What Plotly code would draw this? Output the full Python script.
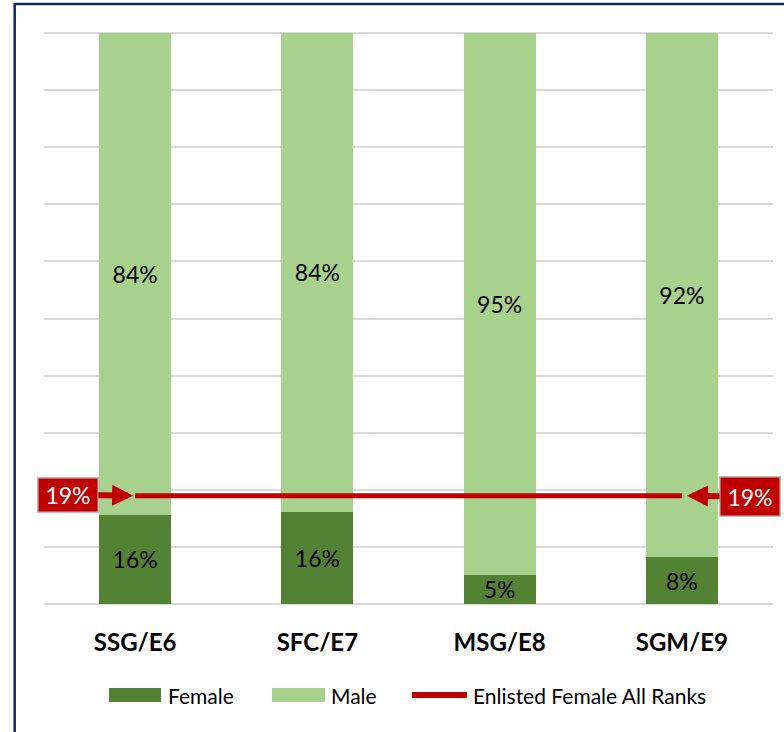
import plotly.graph_objects as go

ranks = ["SSG/E6", "SFC/E7", "MSG/E8", "SGM/E9"]
female = [15.7, 16.1, 5.2, 8.2]
male = [84.3, 83.9, 94.8, 91.8]
all_ranks_female = 19
legend_names = ["Female", "Male", "Enlisted Female All Ranks"]

DARK = "#548235"
LIGHT = "#A9D18E"
RED = "#C00000"
FONT = "Lato"

W, H = 784, 732
ML, MR, MT, MB = 44, 11, 31, 126
PW, PH = W - ML - MR, H - MT - MB


def px(xpix):
    return (xpix - ML) / PW


def py(ypix):
    return (H - MB - ypix) / PH


fig = go.Figure()
fig.add_trace(go.Bar(x=ranks, y=female, name=legend_names[0], marker=dict(color=DARK, line=dict(width=0)),
                     texttemplate="%{y:.0f}%", textposition="inside", insidetextanchor="middle",
                     constraintext="none",
                     textfont=dict(color="black", size=23, family=FONT), showlegend=False))
fig.add_trace(go.Bar(x=ranks, y=male, name=legend_names[1], marker=dict(color=LIGHT, line=dict(width=0)),
                     texttemplate="%{y:.0f}%", textposition="inside", insidetextanchor="middle",
                     constraintext="none",
                     textfont=dict(color="black", size=23, family=FONT), showlegend=False))
fig.add_trace(go.Scatter(x=ranks, y=[all_ranks_female] * len(ranks), mode="lines", name=legend_names[2],
                         line=dict(color=RED, width=5), showlegend=False))

# callouts
for xcat, ax, ay, stand, hgt in [(ranks[0], -67, -1, 2, 31), (ranks[-1], 68, 1, 5, 36)]:
    fig.add_annotation(x=xcat, y=all_ranks_female, xref="x", yref="y", ax=ax, ay=ay,
                       text=f"{all_ranks_female}%", showarrow=True, arrowhead=2, arrowsize=0.7,
                       arrowwidth=6, arrowcolor=RED, standoff=stand,
                       font=dict(color="white", size=23, family=FONT),
                       bgcolor=RED, bordercolor="#bfbfbf", borderwidth=1.5, borderpad=1,
                       width=57, height=hgt)

# legend (drawn)
leg_y = 695
items = [(109, 161, 166, DARK, "rect"), (272, 325, 329, LIGHT, "rect"), (412, 467, 471, RED, "line")]
for (x0, x1, xt, col, kind), name in zip(items, legend_names):
    if kind == "rect":
        fig.add_shape(type="rect", xref="paper", yref="paper", x0=px(x0), x1=px(x1),
                      y0=py(leg_y - 7), y1=py(leg_y + 7), fillcolor=col, line=dict(width=0))
    else:
        fig.add_shape(type="line", xref="paper", yref="paper", x0=px(x0), x1=px(x1),
                      y0=py(leg_y), y1=py(leg_y), line=dict(color=col, width=6))
    fig.add_annotation(x=px(xt), y=py(leg_y), xref="paper", yref="paper", text=name, showarrow=False,
                       xanchor="left", yanchor="middle", font=dict(size=21, family=FONT, color="black"))

# frame
fig.add_shape(type="rect", xref="paper", yref="paper", x0=px(14.7), x1=px(W + 40), y0=py(H + 40), y1=py(4),
              line=dict(color="#0E2A62", width=2.5), layer="above")

fig.update_layout(
    width=W, height=H,
    margin=dict(l=ML, r=MR, t=MT, b=MB),
    paper_bgcolor="white", plot_bgcolor="white",
    barmode="stack", bargap=0.605,
    font=dict(family=FONT, color="black"),
    showlegend=False,
    xaxis=dict(range=[-0.5, len(ranks) - 0.5], autorange=False,
               tickfont=dict(size=24, family=FONT, color="black", weight="bold"), showline=False,
               ticks="", showgrid=False, ticklabelstandoff=20),
    yaxis=dict(range=[-0.3, 100.3], autorange=False, tickvals=list(range(0, 101, 10)),
               showticklabels=False, gridcolor="#D9D9D9", gridwidth=2,
               zeroline=False, showline=False),
)

fig.write_html("out.html", config={"displayModeBar": False},
               post_script="document.body.style.margin='0';")
